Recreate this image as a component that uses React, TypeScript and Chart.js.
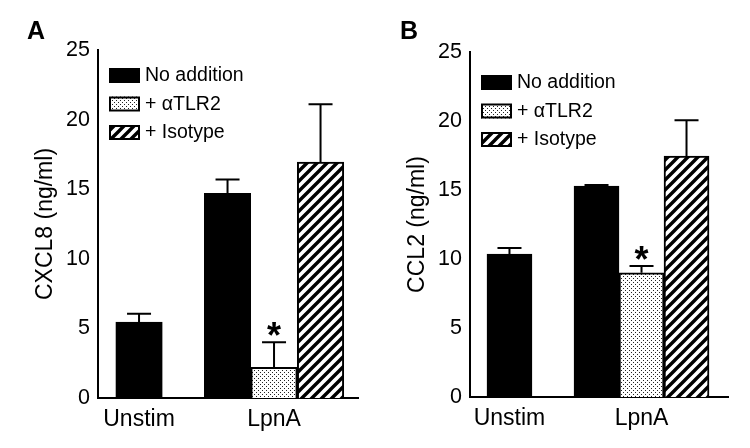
import React, { useEffect, useRef } from 'react';
import { Chart, registerables } from 'chart.js';

Chart.register(...registerables);

const FONT = "'Liberation Sans', Arial, Helvetica, sans-serif";

// ---- data ----
const categories = ['Unstim', 'LpnA'];
const seriesNames = ['No addition', '+ αTLR2', '+ Isotype'];

// Panel A: CXCL8 (ng/ml)
const cxcl8NoAddition = [5.45, 14.7];
const cxcl8NoAdditionErr = [0.6, 1.0];
const cxcl8AntiTLR2 = [null, 2.2];
const cxcl8AntiTLR2Err = [null, 1.8];
const cxcl8Isotype = [null, 16.95];
const cxcl8IsotypeErr = [null, 4.15];
const cxcl8AntiTLR2Sig = ['', '*'];

// Panel B: CCL2 (ng/ml)
const ccl2NoAddition = [10.35, 15.28];
const ccl2NoAdditionErr = [0.45, 0.08];
const ccl2AntiTLR2 = [null, 9.0];
const ccl2AntiTLR2Err = [null, 0.5];
const ccl2Isotype = [null, 17.45];
const ccl2IsotypeErr = [null, 2.6];
const ccl2AntiTLR2Sig = ['', '*'];

const yMin = 0;
const yMax = 25;
const yStep = 5;

type PanelCfg = {
  letter: string;
  yTitle: string;
  values: (number | null)[][];
  errors: (number | null)[][];
  sig: string[][];
  layout: {
    padTop: number;
    padRight: number;
    yWidth: number;
    xHeight: number;
    titlePad: number;
    xMin: number;
    xMax: number;
    barThickness: number;
    legendDX: number;
    legendDY: number;
    letterX: number;
  };
};

const panels: PanelCfg[] = [
  {
    letter: 'A',
    yTitle: 'CXCL8 (ng/ml)',
    values: [cxcl8NoAddition, cxcl8AntiTLR2, cxcl8Isotype],
    errors: [cxcl8NoAdditionErr, cxcl8AntiTLR2Err, cxcl8IsotypeErr],
    sig: [['', ''], cxcl8AntiTLR2Sig, ['', '']],
    layout: {
      padTop: 50, padRight: 17, yWidth: 98, xHeight: 50, titlePad: 32,
      xMin: 0.696, xMax: 2.622, barThickness: 46.5,
      legendDX: 11, legendDY: 18, letterX: 27,
    },
  },
  {
    letter: 'B',
    yTitle: 'CCL2 (ng/ml)',
    values: [ccl2NoAddition, ccl2AntiTLR2, ccl2Isotype],
    errors: [ccl2NoAdditionErr, ccl2AntiTLR2Err, ccl2IsotypeErr],
    sig: [['', ''], ccl2AntiTLR2Sig, ['', '']],
    layout: {
      padTop: 52, padRight: 22, yWidth: 95, xHeight: 51, titlePad: 29,
      xMin: 0.701, xMax: 2.655, barThickness: 45,
      legendDX: 11, legendDY: 23, letterX: 25,
    },
  },
];

function makeDots(ctx: CanvasRenderingContext2D) {
  const c = document.createElement('canvas');
  c.width = 4;
  c.height = 4;
  const g = c.getContext('2d')!;
  g.fillStyle = '#fff';
  g.fillRect(0, 0, 4, 4);
  g.fillStyle = '#222';
  g.fillRect(0, 0, 1, 1);
  g.fillRect(2, 2, 1, 1);
  return ctx.createPattern(c, 'repeat');
}

function makeHatch(ctx: CanvasRenderingContext2D) {
  const s = 10;
  const c = document.createElement('canvas');
  c.width = s;
  c.height = s;
  const g = c.getContext('2d')!;
  g.fillStyle = '#fff';
  g.fillRect(0, 0, s, s);
  g.strokeStyle = '#000';
  g.lineWidth = 3.4;
  g.beginPath();
  g.moveTo(-2, s + 2);
  g.lineTo(s + 2, -2);
  g.moveTo(-2, 2);
  g.lineTo(2, -2);
  g.moveTo(s - 2, s + 2);
  g.lineTo(s + 2, s - 2);
  g.stroke();
  return ctx.createPattern(c, 'repeat');
}

function Panel({ cfg }: { cfg: PanelCfg }) {
  const ref = useRef<HTMLCanvasElement | null>(null);

  useEffect(() => {
    const canvas = ref.current!;
    const ctx0 = canvas.getContext('2d')!;
    const fills = ['#000', makeDots(ctx0), makeHatch(ctx0)];
    const L = cfg.layout;

    const decor = {
      id: 'decor' + cfg.letter,
      afterDatasetsDraw(chart: any) {
        const ctx = chart.ctx;
        const yScale = chart.scales.y;
        ctx.save();
        ctx.strokeStyle = '#000';
        ctx.lineWidth = 2;
        cfg.values.forEach((vals, di) => {
          const meta = chart.getDatasetMeta(di);
          vals.forEach((v, i) => {
            const e = cfg.errors[di][i];
            if (v == null || e == null) return;
            const bar = meta.data[i];
            const x = bar.x;
            const yTop = yScale.getPixelForValue(v);
            const yErr = yScale.getPixelForValue(v + e);
            ctx.beginPath();
            ctx.moveTo(x, yTop);
            ctx.lineTo(x, yErr);
            ctx.moveTo(x - 12, yErr);
            ctx.lineTo(x + 12, yErr);
            ctx.stroke();
            const s = cfg.sig[di][i];
            if (s) {
              ctx.fillStyle = '#000';
              ctx.font = `bold 36px ${FONT}`;
              ctx.textAlign = 'center';
              ctx.textBaseline = 'alphabetic';
              ctx.fillText(s, x, yErr + 6);
            }
          });
        });
        ctx.restore();
      },
      afterDraw(chart: any) {
        const ctx = chart.ctx;
        const area = chart.chartArea;
        ctx.save();
        // legend
        seriesNames.forEach((name, i) => {
          const bx = area.left + L.legendDX;
          const by = area.top + L.legendDY + i * 28.5;
          ctx.fillStyle = fills[i];
          ctx.fillRect(bx, by, 31, 15);
          ctx.strokeStyle = '#000';
          ctx.lineWidth = 2;
          ctx.strokeRect(bx + 1, by + 1, 29, 13);
          ctx.fillStyle = '#000';
          ctx.font = `19.5px ${FONT}`;
          ctx.textAlign = 'left';
          ctx.textBaseline = 'middle';
          ctx.fillText(name, bx + 36, by + 8);
        });
        // panel letter
        ctx.font = `bold 25px ${FONT}`;
        ctx.textAlign = 'left';
        ctx.textBaseline = 'alphabetic';
        ctx.fillText(cfg.letter, L.letterX, 39);
        ctx.restore();
      },
    };

    const chart = new Chart(canvas, {
      type: 'bar',
      data: {
        datasets: cfg.values.map((vals, di) => ({
          label: seriesNames[di],
          data: vals.map((v, i) => ({ x: i + 1, y: v })),
          backgroundColor: fills[di],
          borderColor: '#000',
          borderWidth: 2,
          borderSkipped: 'start',
          skipNull: true,
          barThickness: L.barThickness,
        })) as any,
      },
      options: {
        responsive: false,
        maintainAspectRatio: false,
        animation: false,
        events: [],
        layout: { padding: { top: L.padTop, right: L.padRight, left: 0, bottom: 0 } },
        plugins: {
          legend: { display: false },
          tooltip: { enabled: false },
          title: { display: false },
        },
        scales: {
          x: {
            type: 'linear',
            min: L.xMin,
            max: L.xMax,
            offset: false,
            grid: { display: false, drawTicks: false },
            border: { display: true, color: '#000', width: 2 },
            afterBuildTicks: (s: any) => {
              s.ticks = categories.map((_, i) => ({ value: i + 1 }));
            },
            afterFit: (s: any) => {
              s.height = L.xHeight;
            },
            ticks: {
              autoSkip: false,
              maxRotation: 0,
              padding: 8,
              color: '#000',
              font: { family: FONT, size: 23 },
              callback: (v: any) => categories[Math.round(Number(v)) - 1] ?? '',
            },
          },
          y: {
            min: yMin,
            max: yMax,
            grid: { display: false, drawTicks: false },
            border: { display: true, color: '#000', width: 2 },
            afterFit: (s: any) => {
              s.width = L.yWidth;
            },
            ticks: {
              stepSize: yStep,
              padding: 8,
              color: '#000',
              font: { family: FONT, size: 21.5 },
            },
            title: {
              display: true,
              text: cfg.yTitle,
              color: '#000',
              font: { family: FONT, size: 23 },
              padding: { top: L.titlePad, bottom: 0 },
            },
          },
        },
      },
      plugins: [decor as any],
    } as any);

    return () => chart.destroy();
  }, [cfg]);

  return (
    <canvas
      ref={ref}
      width={375}
      height={448}
      style={{ display: 'block', width: 375, height: 448 }}
    />
  );
}

export default function App() {
  return (
    <div
      style={{
        position: 'absolute',
        left: 0,
        top: 0,
        width: 750,
        height: 448,
        background: '#fff',
        display: 'flex',
        fontFamily: FONT,
      }}
    >
      {panels.map((p) => (
        <Panel key={p.letter} cfg={p} />
      ))}
    </div>
  );
}
